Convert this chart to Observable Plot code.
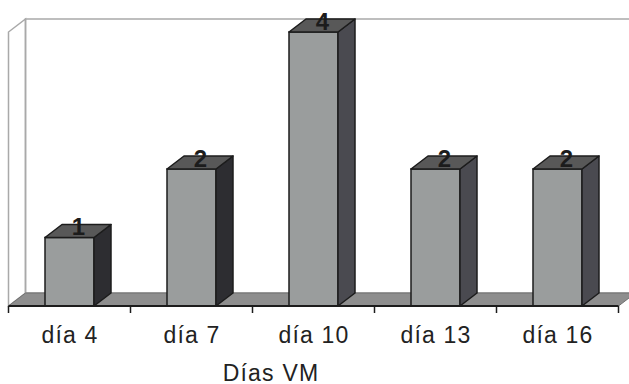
<!DOCTYPE html>
<html>
<head>
<meta charset="utf-8">
<script src="https://cdn.jsdelivr.net/npm/d3@7"></script>
<script src="https://cdn.jsdelivr.net/npm/@observablehq/plot@0.6"></script>
<style>
  html, body { margin: 0; padding: 0; background: #fff; }
  #chart svg { display: block; }
  text[aria-label="day label"], text[aria-label="axis title"] { letter-spacing: 1.2px; }
</style>
</head>
<body>
<div id="chart"></div>
<script>
// Days of mechanical ventilation and the number of cases on each
const days = ["día 4", "día 7", "día 10", "día 13", "día 16"];
const cases = [1, 2, 4, 2, 2];
const axisTitle = "Días VM";
const yMax = 4;

const data = days.map((day, i) => ({day, cases: cases[i], i}));

// 3D look: depth offset of the back plane, in pixels
const depthX = 17, depthY = 13;
const frontFill = "#9a9d9d";
const topFill = "#585858";
const sideFills = ["#2d2d31", "#2d2d31", "#4a4a50", "#4a4a50", "#4a4a50"];
const edge = "#1c1c1c";
const font = "'Liberation Sans', Arial, Helvetica, sans-serif";

const poly = (pts) => "M" + pts.map((p) => p.join(",")).join("L") + "Z";

// band boundaries (where the category ticks sit)
function bandEdges(x) {
  const step = x.step(), bw = x.bandwidth();
  const cs = days.map((d) => x(d) + bw / 2);
  return {left: cs[0] - step / 2, right: cs[cs.length - 1] + step / 2, ticks: [...cs.map((c) => c - step / 2), cs[cs.length - 1] + step / 2]};
}

// side wall, back wall and floor
const room = (index, {x, y}) => {
  const g = d3.create("svg:g");
  const {left, right} = bandEdges(x);
  const y0 = y(0), yt = y(yMax);
  g.append("path")
    .attr("d", poly([[left, y0], [left, yt], [left + depthX, yt - depthY], [left + depthX, y0 - depthY]]))
    .attr("fill", "#fff").attr("stroke", "#a9a9a9").attr("stroke-width", 1.5);
  g.append("path")
    .attr("d", poly([[left + depthX, yt - depthY], [right + depthX, yt - depthY], [right + depthX, y0 - depthY], [left + depthX, y0 - depthY]]))
    .attr("fill", "none").attr("stroke", "#a9a9a9").attr("stroke-width", 1.5);
  g.append("path")
    .attr("d", poly([[left, y0], [right, y0], [right + depthX, y0 - depthY], [left + depthX, y0 - depthY]]))
    .attr("fill", "#8e8e8e").attr("stroke", "#707070").attr("stroke-width", 1);
  return g.node();
};

// right side and top face of each bar
const barDepth = (index, {x, y}) => {
  const g = d3.create("svg:g")
    .attr("stroke", edge).attr("stroke-width", 1.5).attr("stroke-linejoin", "round");
  const bw = x.bandwidth();
  const y0 = y(0);
  for (const d of data) {
    const xl = x(d.day), xr = xl + bw, yt = y(d.cases);
    g.append("path")
      .attr("d", poly([[xr, y0], [xr, yt], [xr + depthX, yt - depthY], [xr + depthX, y0 - depthY]]))
      .attr("fill", sideFills[d.i]);
    g.append("path")
      .attr("d", poly([[xl, yt], [xr, yt], [xr + depthX, yt - depthY], [xl + depthX, yt - depthY]]))
      .attr("fill", topFill);
  }
  return g.node();
};

// front edge of the floor with tick marks between categories
const baseline = (index, {x, y}) => {
  const g = d3.create("svg:g").attr("stroke", edge);
  const {left, right, ticks} = bandEdges(x);
  const y0 = y(0);
  g.append("line").attr("x1", left).attr("x2", right).attr("y1", y0).attr("y2", y0).attr("stroke-width", 2);
  for (const t of ticks) {
    g.append("line").attr("x1", t).attr("x2", t).attr("y1", y0).attr("y2", y0 + 7).attr("stroke-width", 1.5);
  }
  return g.node();
};

const chart = Plot.plot({
  width: 629,
  height: 384,
  marginTop: 0, marginRight: 0, marginBottom: 0, marginLeft: 0,
  style: {fontFamily: font, background: "#fff", color: "#222"},
  x: {type: "band", domain: days, range: [8, 619], paddingInner: 0.6, paddingOuter: 0.3, axis: null},
  y: {domain: [0, yMax], range: [306, 32], axis: null},
  marks: [
    room,
    Plot.barY(data, {x: "day", y: "cases", fill: frontFill, stroke: edge, strokeWidth: 1.5}),
    barDepth,
    baseline,
    Plot.text(data, {
      x: "day", y: "cases", text: (d) => String(d.cases),
      dx: depthX / 2, dy: -3, lineAnchor: "bottom",
      fontSize: 24, fontWeight: "bold", fill: edge, fontFamily: font
    }),
    Plot.text(data, {
      x: "day", text: "day", frameAnchor: "bottom", dy: -42, lineAnchor: "bottom",
      fontSize: 23, fill: "#222", fontFamily: font, ariaLabel: () => "day label"
    }),
    Plot.text([axisTitle], {
      text: (d) => d, frameAnchor: "bottom", dx: -44, dy: -4, lineAnchor: "bottom",
      fontSize: 23, fill: "#222", fontFamily: font, ariaLabel: () => "axis title"
    })
  ]
});

document.getElementById("chart").append(chart);
</script>
</body>
</html>
